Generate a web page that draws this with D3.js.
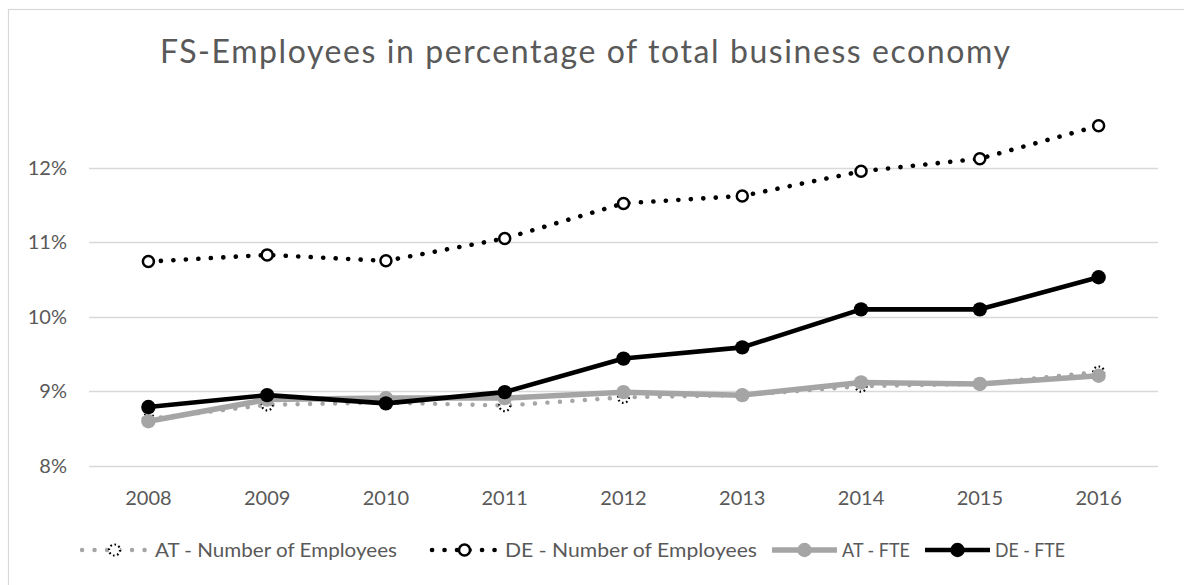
<!DOCTYPE html>
<html>
<head>
<meta charset="utf-8">
<script src="https://cdn.jsdelivr.net/npm/d3@7"></script>
<style>
  html, body { margin: 0; padding: 0; background: #fff; }
  svg { display: block; font-family: Lato, "Open Sans", sans-serif; }
</style>
</head>
<body>
<svg id="chart" width="1184" height="585"></svg>
<script>
// Years on the category axis
const years = ["2008", "2009", "2010", "2011", "2012", "2013", "2014", "2015", "2016"];

// Share of FS employees in the total business economy (%)
const atEmployees = [8.63, 8.82, 8.85, 8.81, 8.92, 8.95, 9.07, 9.10, 9.26];
const deEmployees = [10.74, 10.83, 10.75, 11.05, 11.52, 11.62, 11.95, 12.12, 12.56];
const atFTE       = [8.60, 8.89, 8.91, 8.91, 8.99, 8.95, 9.12, 9.10, 9.21];
const deFTE       = [8.79, 8.95, 8.84, 8.99, 9.44, 9.59, 10.10, 10.10, 10.53];

// Value axis ticks
const yTicks = [8, 9, 10, 11, 12];

const titleText = "FS-Employees in percentage of total business economy";

const series = [
  { name: "AT - Number of Employees", values: atEmployees, kind: "atNum" },
  { name: "DE - Number of Employees", values: deEmployees, kind: "deNum" },
  { name: "AT - FTE", values: atFTE, kind: "atFte" },
  { name: "DE - FTE", values: deFTE, kind: "deFte" }
];

const GREY = "#a5a5a5";
const TEXT = "#595959";

const svg = d3.select("#chart");

// chart frame
svg.append("rect")
  .attr("x", 8.5).attr("y", 9.5)
  .attr("width", 1200).attr("height", 600)
  .attr("fill", "#fff").attr("stroke", "#d9d9d9").attr("stroke-width", 1.2);

const plot = { left: 89, right: 1158, top: 93, bottom: 466 };

const x = d3.scaleBand().domain(years).range([plot.left, plot.right]);
const y = d3.scaleLinear().domain([8, 13]).range([plot.bottom, plot.top]);
const cx = d => x(d) + x.bandwidth() / 2;

// title
svg.append("text")
  .attr("x", 585).attr("y", 63)
  .attr("text-anchor", "middle")
  .attr("font-size", 32)
  .attr("fill", TEXT)
  .attr("textLength", 850)
  .attr("lengthAdjust", "spacing")
  .text(titleText);

// gridlines
svg.append("g")
  .selectAll("line")
  .data(yTicks)
  .join("line")
  .attr("x1", plot.left).attr("x2", plot.right)
  .attr("y1", d => Math.round(y(d)) + 0.5).attr("y2", d => Math.round(y(d)) + 0.5)
  .attr("stroke", "#d9d9d9").attr("stroke-width", 1.5);

// y axis labels
const yAxis = d3.axisLeft(y).tickValues(yTicks).tickSize(0).tickPadding(0)
  .tickFormat(d => d + "%");
svg.append("g")
  .attr("transform", `translate(${plot.left - 22},0)`)
  .call(yAxis)
  .call(g => g.select(".domain").remove())
  .call(g => g.selectAll("text").attr("font-size", 20).attr("fill", TEXT)
    .attr("font-family", "Lato, sans-serif"));

// x axis labels
const xAxis = d3.axisBottom(x).tickSize(0).tickPadding(0);
svg.append("g")
  .attr("transform", `translate(0,${plot.bottom})`)
  .call(xAxis)
  .call(g => g.select(".domain").remove())
  .call(g => g.selectAll("text").attr("font-size", 20).attr("fill", TEXT)
    .attr("font-family", "Lato, sans-serif").attr("y", 39).attr("dy", null));

const line = d3.line().x((d, i) => cx(years[i])).y(d => y(d));

function lineStyle(sel, kind) {
  if (kind === "atNum") {
    sel.attr("stroke", GREY).attr("stroke-width", 4.4)
      .attr("stroke-dasharray", "0.1 12.4").attr("stroke-linecap", "round");
  } else if (kind === "deNum") {
    sel.attr("stroke", "#000").attr("stroke-width", 4.6)
      .attr("stroke-dasharray", "0.1 12.4").attr("stroke-linecap", "round");
  } else if (kind === "atFte") {
    sel.attr("stroke", GREY).attr("stroke-width", 5.5).attr("stroke-linejoin", "round");
  } else {
    sel.attr("stroke", "#000").attr("stroke-width", 4.6).attr("stroke-linejoin", "round");
  }
  return sel;
}

function markerStyle(sel, kind) {
  if (kind === "atNum") {
    sel.attr("r", 5.5).attr("fill", "#fff").attr("stroke", "#000")
      .attr("stroke-width", 2.2).attr("stroke-dasharray", "1.6 2.6");
  } else if (kind === "deNum") {
    sel.attr("r", 5.5).attr("fill", "#fff").attr("stroke", "#000").attr("stroke-width", 2.5);
  } else if (kind === "atFte") {
    sel.attr("r", 7.2).attr("fill", GREY).attr("stroke", "none");
  } else {
    sel.attr("r", 7.2).attr("fill", "#000").attr("stroke", "none");
  }
  return sel;
}

// draw series in stacking order
series.forEach(s => {
  const g = svg.append("g");
  g.append("path").datum(s.values).attr("fill", "none").attr("d", line)
    .call(lineStyle, s.kind);
  g.selectAll("circle").data(s.values).join("circle")
    .attr("cx", (d, i) => cx(years[i])).attr("cy", d => y(d))
    .call(markerStyle, s.kind);
});

// legend
const legendItems = [
  { s: series[0], x0: 82, tx: 155, tw: 242 },
  { s: series[1], x0: 432, tx: 505, tw: 252 },
  { s: series[2], x0: 772, tx: 842, tw: 68 },
  { s: series[3], x0: 925, tx: 995, tw: 70 }
];
const ly = 550;
const lg = svg.append("g");
legendItems.forEach(it => {
  const g = lg.append("g").attr("transform", `translate(${it.x0},${ly})`);
  const w = 65;
  g.append("path").datum([0, w]).attr("fill", "none")
    .attr("d", d => `M${d[0]},0H${d[1]}`)
    .call(lineStyle, it.s.kind);
  g.append("circle").attr("cx", w / 2).attr("cy", 0).call(markerStyle, it.s.kind);
  g.append("text").attr("x", it.tx - it.x0).attr("y", 0).attr("dy", "0.35em")
    .attr("font-size", 19).attr("fill", TEXT)
    .attr("textLength", it.tw).attr("lengthAdjust", "spacingAndGlyphs")
    .text(it.s.name);
});
</script>
</body>
</html>
